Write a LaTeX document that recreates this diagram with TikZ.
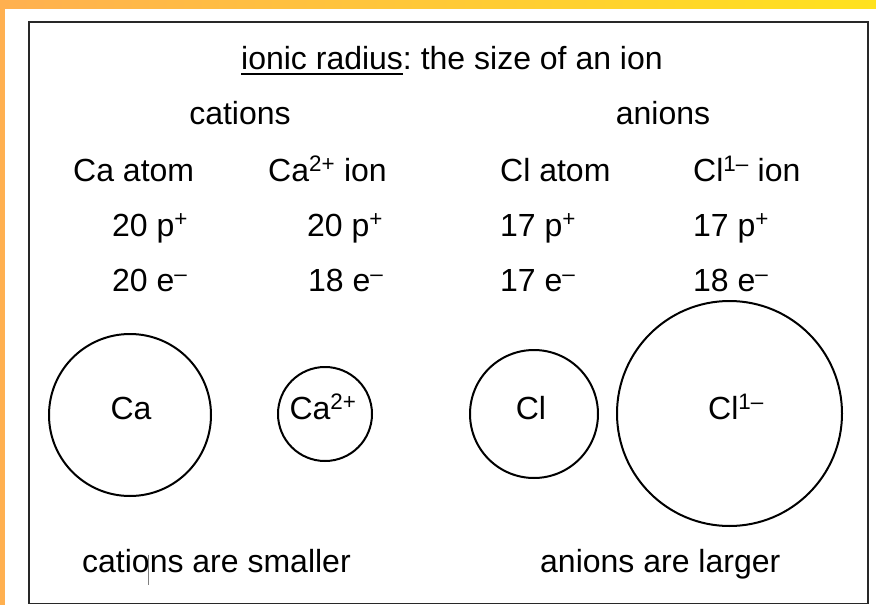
\documentclass[tikz,border=0pt]{standalone}
\usepackage{fontspec}
\setmainfont{Liberation Sans}
\frenchspacing
\definecolor{edgeorange}{RGB}{255,176,80}
\definecolor{edgeyellow}{RGB}{255,226,30}
\definecolor{framegray}{RGB}{40,40,40}
\tikzset{
  txt/.style={inner sep=0pt, anchor=base west, font=\fontsize{32}{38}\selectfont},
  ctxt/.style={inner sep=0pt, anchor=base, font=\fontsize{32}{38}\selectfont},
  ball/.style={circle, draw=black, line width=2pt, inner sep=0pt},
}
\newcommand{\sups}[1]{\textsuperscript{#1}}
\begin{document}
\begin{tikzpicture}[x=1pt,y=-1pt]
\useasboundingbox (0,0) rectangle (876,605);
\fill[white] (0,0) rectangle (876,605);
\shade[left color=edgeorange, right color=edgeyellow] (0,0) rectangle (876,8);
\fill[edgeorange] (0,0) rectangle (5,605);
\draw[line width=1.5pt, framegray] (29,22) rectangle (868,603.5);

% title
\node[txt] (title) at (241,69) {\frenchspacing ionic radius: the size of an ion};
\draw[line width=1.5pt] ([yshift=-5pt]title.base west) -- ++(162,0);

\node[ctxt] (cat) at (240,124) {cations};
\node[ctxt] (an) at (663,124) {anions};

\node[txt] (h1) at (73,181) {Ca atom};
\node[txt] (h2) at (268,181) {Ca\sups{2+} ion};
\node[txt] (h3) at (500,181) {Cl atom};
\node[txt] (h4) at (693,181) {Cl\sups{1–} ion};

\node[txt] (p1) at (112,236) {20 p\sups{+}};
\node[txt] (p2) at (307,236) {20 p\sups{+}};
\node[txt] (p3) at (500,236) {17 p\sups{+}};
\node[txt] (p4) at (693,236) {17 p\sups{+}};

\node[txt] (e1) at (112,291) {20 e\sups{–}};
\node[txt] (e2) at (308,291) {18 e\sups{–}};
\node[txt] (e3) at (500,291) {17 e\sups{–}};
\node[txt] (e4) at (693,291) {18 e\sups{–}};

\node[ball, minimum size=162pt] (c1) at (130,415) {};
\node[ball, minimum size=94pt] (c2) at (325,414) {};
\node[ball, minimum size=128pt] (c3) at (534,414) {};
\node[ball, minimum size=225pt] (c4) at (729.5,413.5) {};

\node[ctxt] (l1) at (131,419) {Ca};
\node[ctxt] (l2) at (323,419) {Ca\sups{2+}};
\node[ctxt] (l3) at (531,419) {Cl};
\node[ctxt] (l4) at (736,419) {Cl\sups{1–}};

\node[txt] (b1) at (82,572) {cations are smaller};
\node[txt] (b2) at (540,572) {anions are larger};
\draw[gray, line width=0.8pt] (148,555) -- (148,585);
\end{tikzpicture}
\end{document}
